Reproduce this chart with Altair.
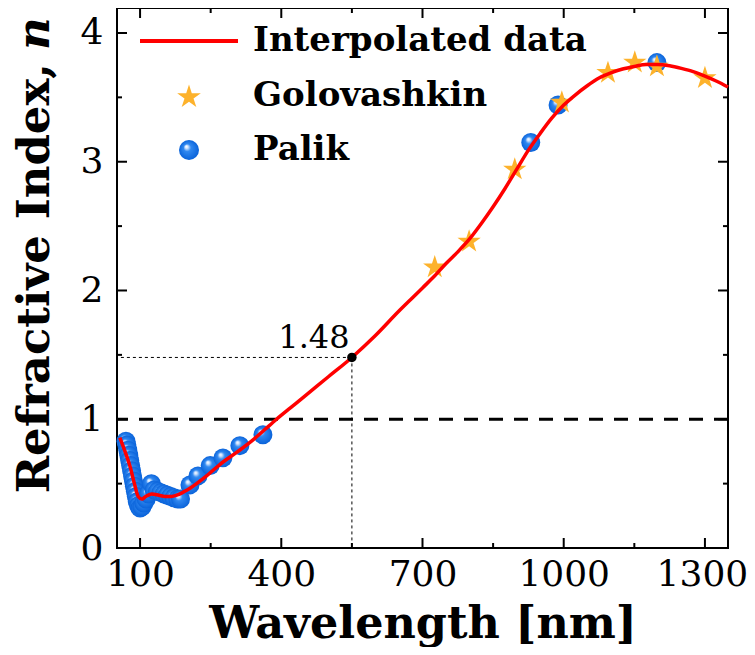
import altair as alt
import pandas as pd

# ---------------- data ----------------
curve_wl = [57, 68, 79, 88, 96, 104, 112, 125, 140, 153, 166, 178, 190, 200, 220, 238,
            270, 308, 340, 365, 390, 420, 450, 500, 550, 600, 650, 675, 700, 725, 750,
            775, 800, 825, 850, 875, 900, 925, 950, 975, 1000, 1025, 1050, 1075, 1100,
            1125, 1150, 1175, 1200, 1225, 1250, 1275, 1300, 1325, 1349]
curve_n = [0.857, 0.75, 0.63, 0.50, 0.40, 0.38, 0.40, 0.42, 0.41, 0.40, 0.40, 0.41, 0.43,
           0.45, 0.50, 0.55, 0.65, 0.75, 0.84, 0.92, 1.00, 1.09, 1.18, 1.33, 1.48, 1.65,
           1.84, 1.93, 2.02, 2.11, 2.21, 2.30, 2.40, 2.52, 2.65, 2.79, 2.94, 3.09, 3.22,
           3.34, 3.44, 3.52, 3.59, 3.65, 3.69, 3.72, 3.74, 3.755, 3.755, 3.745, 3.725,
           3.70, 3.665, 3.625, 3.58]

palik_wl = [70, 72, 74, 76, 78, 80, 82, 84, 86, 88, 90, 92, 94, 97, 100, 104, 108, 113,
            118, 124, 130, 137, 144, 151, 158, 165, 172, 180, 186, 206, 223, 249, 276,
            312, 361, 930, 988, 1198]
palik_n = [0.83, 0.80, 0.76, 0.72, 0.68, 0.64, 0.60, 0.56, 0.52, 0.48, 0.44, 0.40, 0.36,
           0.33, 0.31, 0.32, 0.35, 0.38, 0.42, 0.50, 0.45, 0.44, 0.43, 0.42, 0.41, 0.40,
           0.39, 0.38, 0.38, 0.49, 0.56, 0.64, 0.70, 0.795, 0.88, 3.15, 3.44, 3.77]

golo_wl = [726, 799, 896, 996, 1094, 1151, 1198, 1300]
golo_n = [2.18, 2.38, 2.94, 3.46, 3.69, 3.77, 3.74, 3.65]

annot_wl = [550]
annot_n = [1.48]
annot_label = ["1.48"]
ref_n = [1.0]

x_major = [100, 400, 700, 1000, 1300]
x_minor = [250, 550, 850, 1150]
y_major = [0, 1, 2, 3, 4]
y_minor = [0.5, 1.5, 2.5, 3.5]

legend_labels = ["Interpolated data", "Golovashkin", "Palik"]
x_title = "Wavelength [nm]"
y_title_main = "Refractive Index,"
y_title_var = "n"

# ---------------- styling ----------------
W, H = 611, 540
FONT = "DejaVu Serif"
RED = "#ff0000"
STAR_COLOR = "#fdb22b"
STAR = ("M0,-1L0.2245,-0.309L0.951,-0.309L0.363,0.118L0.588,0.809L0,0.382"
        "L-0.588,0.809L-0.363,0.118L-0.951,-0.309L-0.2245,-0.309Z")
SPHERE = {
    "gradient": "radial",
    "x1": 0.36, "y1": 0.32, "r1": 0.0,
    "x2": 0.5, "y2": 0.5, "r2": 0.5,
    "stops": [
        {"offset": 0.0, "color": "#ffffff"},
        {"offset": 0.14, "color": "#d4e6ff"},
        {"offset": 0.38, "color": "#3088f0"},
        {"offset": 1.0, "color": "#0a63da"},
    ],
}

xs = alt.Scale(domain=[51, 1349], nice=False, zero=False)
ys = alt.Scale(domain=[0, 4.194], nice=False, zero=False)
X_AX = alt.Axis(values=x_major, format="d", title=x_title, labelPadding=9,
                labelOffset={"expr": "datum.value == 1300 ? -3 : 0"},
                labelFontSize=36, labelFont=FONT, labelFontWeight="normal",
                titleFont=FONT, titleFontSize=44.5, titleFontWeight="bold",
                titleBaseline="alphabetic", titleY=89)
Y_AX = alt.Axis(values=y_major, title=None, labelPadding=14, labelFontSize=36,
                labelFont=FONT, labelFontWeight="normal")


def X(field="wl"):
    return alt.X(f"{field}:Q", scale=xs, axis=X_AX)


def Y(field="n"):
    return alt.Y(f"{field}:Q", scale=ys, axis=Y_AX)


curve_df = pd.DataFrame({"wl": curve_wl, "n": curve_n})
palik_df = pd.DataFrame({"wl": palik_wl, "n": palik_n})
golo_df = pd.DataFrame({"wl": golo_wl, "n": golo_n})
annot_df = pd.DataFrame({"wl": annot_wl, "n": annot_n, "label": annot_label})
ref_df = pd.DataFrame({"n": ref_n})

dashed = alt.Chart(ref_df).mark_rule(color="black", strokeWidth=3, strokeDash=[14, 11]).encode(y=Y())
dot_h = alt.Chart(annot_df).mark_rule(color="black", strokeWidth=1, strokeDash=[3, 3]).encode(
    x=X(), x2=alt.value(0), y=Y())
dot_v = alt.Chart(annot_df).mark_rule(color="black", strokeWidth=1, strokeDash=[3, 3]).encode(
    x=X(), y=Y(), y2=alt.value(H))

palik = alt.Chart(palik_df).mark_point(shape="circle", filled=True, fill=SPHERE, size=360,
                                       opacity=1, strokeWidth=0).encode(x=X(), y=Y())
golo = alt.Chart(golo_df).mark_point(shape=STAR, filled=True, fill=STAR_COLOR, size=600,
                                     opacity=1, strokeWidth=0).encode(x=X(), y=Y())
line = alt.Chart(curve_df).mark_line(color=RED, strokeWidth=3.5, interpolate="monotone").encode(
    x=X(), y=Y())
dot = alt.Chart(annot_df).mark_point(shape="circle", filled=True, color="black", size=90,
                                     opacity=1).encode(x=X(), y=Y())
dot_text = alt.Chart(annot_df).mark_text(font=FONT, fontSize=32, dx=-38, dy=-9,
                                         align="center", baseline="alphabetic",
                                         color="black").encode(x=X(), y=Y(), text="label:N")

# inward ticks (frame drawn by the view stroke)
xmaj = pd.DataFrame({"wl": x_major})
xmin = pd.DataFrame({"wl": x_minor})
ymaj = pd.DataFrame({"n": y_major})
ymin = pd.DataFrame({"n": y_minor})
tk = dict(color="black", strokeWidth=2)
ticks = [
    alt.Chart(xmaj).mark_rule(**tk).encode(x=X(), y=alt.value(H), y2=alt.value(H - 10)),
    alt.Chart(xmin).mark_rule(**tk).encode(x=X(), y=alt.value(H), y2=alt.value(H - 5)),
    alt.Chart(xmaj).mark_rule(**tk).encode(x=X(), y=alt.value(0), y2=alt.value(10)),
    alt.Chart(xmin).mark_rule(**tk).encode(x=X(), y=alt.value(0), y2=alt.value(5)),
    alt.Chart(ymaj).mark_rule(**tk).encode(y=Y(), x=alt.value(0), x2=alt.value(10)),
    alt.Chart(ymin).mark_rule(**tk).encode(y=Y(), x=alt.value(0), x2=alt.value(5)),
    alt.Chart(ymaj).mark_rule(**tk).encode(y=Y(), x=alt.value(W), x2=alt.value(W - 10)),
    alt.Chart(ymin).mark_rule(**tk).encode(y=Y(), x=alt.value(W), x2=alt.value(W - 5)),
]

# legend
lg = [pd.DataFrame({"label": [t]}) for t in legend_labels]
leg_line = alt.Chart(lg[0]).mark_rule(color=RED, strokeWidth=4).encode(
    x=alt.value(23), x2=alt.value(121), y=alt.value(33))
leg_star = alt.Chart(lg[1]).mark_point(shape=STAR, filled=True, fill=STAR_COLOR, size=620,
                                       opacity=1, strokeWidth=0).encode(
    x=alt.value(72), y=alt.value(89))
leg_circ = alt.Chart(lg[2]).mark_point(shape="circle", filled=True, fill=SPHERE, size=400,
                                       opacity=1, strokeWidth=0).encode(
    x=alt.value(72), y=alt.value(142))
leg_texts = [
    alt.Chart(d).mark_text(font=FONT, fontSize=34, fontWeight="bold", align="left",
                           baseline="middle", color="black").encode(
        x=alt.value(136), y=alt.value(yy), text="label:N")
    for d, yy in zip(lg, [33, 88, 142])
]

# y title (bold text with italic variable)
yt = pd.DataFrame({"t": [y_title_main]})
yv = pd.DataFrame({"t": [y_title_var]})
ytitle = alt.Chart(yt).mark_text(font=FONT, fontSize=45, fontWeight="bold", angle=270,
                                 align="right", baseline="middle", color="black").encode(
    x=alt.value(-82), y=alt.value(55), text="t:N")
yvar = alt.Chart(yv).mark_text(font=FONT, fontSize=45, fontWeight="bold", fontStyle="italic",
                               angle=270, align="left", baseline="middle", color="black").encode(
    x=alt.value(-82), y=alt.value(42), text="t:N")

chart = alt.layer(
    dashed, dot_h, dot_v, palik, golo, line, dot, dot_text, *ticks,
    leg_line, leg_star, leg_circ, *leg_texts, ytitle, yvar,
).properties(
    width=W, height=H,
    autosize=alt.AutoSizeParams(type="none"),
    padding={"left": 109, "top": 0, "right": 19, "bottom": 99},
).configure_view(
    stroke="black", strokeWidth=2
).configure_axis(
    grid=False, ticks=False, domain=False, labelColor="black", titleColor="black"
)

chart.save("out.html", embed_options={"renderer": "svg", "actions": False})
